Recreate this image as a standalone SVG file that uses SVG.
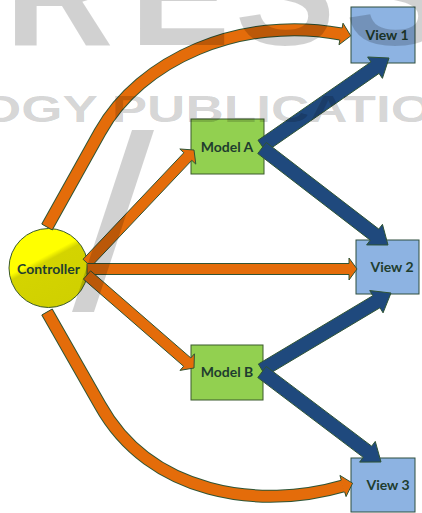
<svg xmlns="http://www.w3.org/2000/svg" width="422" height="513" viewBox="0 0 422 513">
<style>
.orange{fill:#e46c0a;stroke:#2f5435;stroke-width:1;stroke-linejoin:miter}
.oshaft-out{fill:none;stroke:#2f5435;stroke-width:13;stroke-linejoin:round}
.oshaft-in{fill:none;stroke:#e46c0a;stroke-width:11;stroke-linejoin:round}
.ofill{fill:#e46c0a;stroke:none}
.oline{fill:none;stroke:#2f5435;stroke-width:1}
.blue{fill:#1f497d;stroke:#2f5435;stroke-width:1;stroke-linejoin:miter}
.model{fill:#92d050;stroke:#3b5a2c;stroke-width:1}
.view{fill:#8db3e2;stroke:#2f4f3f;stroke-width:1}
.label{font-family:Lato,"Liberation Sans",sans-serif;font-weight:700;font-size:14px;fill:#1f3d2f;text-anchor:middle}
.wm{fill:#000;fill-opacity:0.18}
.wmtext{font-family:"Liberation Sans",Arial,sans-serif;font-weight:700;fill:#000;fill-opacity:0.18}
</style>
<defs>
<linearGradient id="ctrlGrad" gradientUnits="userSpaceOnUse" x1="29.2" y1="232.8" x2="66.8" y2="303.2">
<stop offset="0" stop-color="#ffff00"/>
<stop offset="0.35" stop-color="#ffff00"/>
<stop offset="0.42" stop-color="#d4d400"/>
<stop offset="1" stop-color="#d0d000"/>
</linearGradient>
</defs>
<rect x="0" y="0" width="422" height="513" fill="#ffffff"/>

<g id="controller">
<circle cx="48.5" cy="268" r="39.5" fill="url(#ctrlGrad)" stroke="#3b5a2c" stroke-width="1"/>
<text class="label" x="48.5" y="274">Controller</text>
</g>
<g id="model-a">
<rect class="model" x="191" y="119" width="73" height="55"/>
<text class="label" x="227" y="152">Model A</text>
</g>
<g id="model-b">
<rect class="model" x="191" y="345" width="72" height="55"/>
<text class="label" x="227" y="377">Model B</text>
</g>
<g id="view-1">
<rect class="view" x="351" y="7" width="64" height="56"/>
<text class="label" x="387" y="40">View 1</text>
</g>
<g id="view-2">
<rect class="view" x="356" y="240" width="63" height="54"/>
<text class="label" x="392" y="272">View 2</text>
</g>
<g id="view-3">
<rect class="view" x="351" y="458" width="64" height="54"/>
<text class="label" x="388" y="490">View 3</text>
</g>

<g id="connectors">
<!-- Controller -> View 1 (curved) -->
<path class="oshaft-out" d="M47,227 L100,132 C140,60 240,15 341,34"/>
<path class="oshaft-in" d="M47,227 L100,132 C140,60 240,15 341,34"/>
<line class="oline" x1="52.24" y1="229.92" x2="41.76" y2="224.08"/>
<polygon class="ofill" points="339.5,39.5 338.97,44.81 350.8,35.85 343.03,23.19 341.6,28.5"/>
<polyline class="oline" points="339.89,39.9 338.97,44.81 350.8,35.85 343.03,23.19 342.11,28.1"/>

<!-- Controller -> Model A -->
<polygon class="orange" points="90.99,266.78 191.8,160.32 195.8,164.1 194,150 179.82,148.98 183.82,152.76 83.01,259.22"/>

<!-- Controller -> View 2 -->
<polygon class="orange" points="87,263.5 349,263.5 349,258 357,269 349,280 349,274.5 87,274.5"/>

<!-- Controller -> Model B -->
<polygon class="orange" points="83.39,279.15 183.6,366.25 179.99,370.4 194,368 194.43,353.8 190.82,357.95 90.61,270.85"/>

<!-- Controller -> View 3 (curved) -->
<path class="oshaft-out" d="M47,312 L100,405 C150,495 260,510 343,486"/>
<path class="oshaft-in" d="M47,312 L100,405 C150,495 260,510 343,486"/>
<line class="oline" x1="41.79" y1="314.97" x2="52.21" y2="309.03"/>
<polygon class="ofill" points="344.2,491.4 346.06,496.57 352.6,483.2 339.94,475.43 341.0,480.4"/>
<polyline class="oline" points="344.67,491.76 346.06,496.57 352.6,483.2 339.94,475.43 341.33,480.24"/>

<!-- Model A -> View 1 -->
<polygon class="blue" points="265.99,151.75 379.02,73.43 382.43,78.37 389,58 367.63,56.99 371.04,61.93 258.01,140.25"/>
<!-- Model A -> View 2 -->
<polygon class="blue" points="257.73,153.55 370.26,240.18 366.6,244.93 388,245 382.46,224.33 378.8,229.08 266.27,142.45"/>
<!-- Model B -> View 2 -->
<polygon class="blue" points="265.59,376.01 379.99,307.72 383.06,312.87 391,293 369.74,290.55 372.81,295.7 258.41,363.99"/>
<!-- Model B -> View 3 -->
<polygon class="blue" points="257.78,377.58 363.22,457.33 359.6,462.12 381,462 375.28,441.38 371.66,446.17 266.22,366.42"/>
</g>

<g id="watermark">
<text class="wmtext" font-size="150" x="5 130 235 345" y="45">RESS</text>
<text class="wmtext" font-size="36" x="-20" y="122" textLength="452" lengthAdjust="spacingAndGlyphs">OGY PUBLICATIO</text>
<polygon class="wm" points="132,130 154,130 94,312 72,312"/>
</g>
</svg>
